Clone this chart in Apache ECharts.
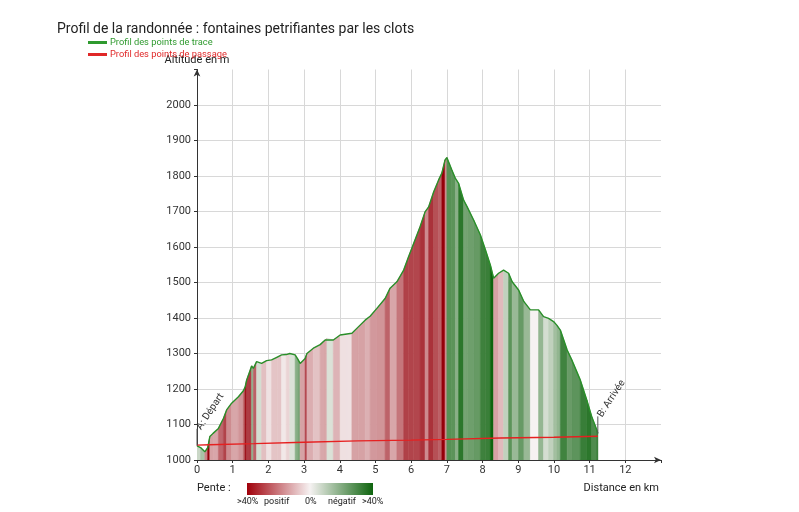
<!DOCTYPE html>
<html>
<head>
<meta charset="utf-8">
<script src="https://cdn.jsdelivr.net/npm/echarts@6/dist/echarts.min.js"></script>
<style>html,body{margin:0;padding:0;background:#fff}#c{width:799px;height:512px}</style>
</head>
<body>
<div id="c"></div>
<script>
// Profile of the track points (distance km, altitude m)
const traceKm = [0.00,0.10,0.22,0.30,0.36,0.45,0.60,0.74,0.83,0.97,1.16,1.30,1.35,1.39,1.49,1.53,1.58,1.67,1.81,1.95,2.09,2.25,2.37,2.50,2.60,2.75,2.82,2.89,3.03,3.08,3.26,3.45,3.59,3.64,3.82,4.01,4.20,4.34,4.52,4.71,4.85,5.04,5.27,5.41,5.60,5.79,5.93,6.07,6.25,6.39,6.49,6.63,6.77,6.86,6.95,7.00,7.14,7.24,7.33,7.47,7.57,7.75,7.94,8.08,8.22,8.31,8.45,8.59,8.73,8.83,9.01,9.16,9.34,9.57,9.71,9.85,9.99,10.08,10.18,10.37,10.50,10.74,10.92,11.06,11.20,11.23];
const traceAlt = [1040,1035,1023,1035,1066,1075,1089,1117,1141,1160,1178,1195,1206,1225,1253,1265,1258,1277,1272,1280,1282,1290,1296,1297,1300,1296,1285,1272,1286,1300,1315,1325,1338,1343,1338,1352,1355,1357,1375,1394,1405,1427,1455,1484,1502,1535,1573,1610,1657,1699,1713,1755,1789,1808,1845,1852,1817,1793,1779,1732,1713,1676,1634,1592,1549,1512,1526,1535,1526,1502,1479,1446,1423,1423,1404,1399,1390,1380,1366,1310,1282,1225,1169,1122,1085,1075];
// Profile of the waypoints
const passKm  = [0.00,0.35,1.60,3.00,4.50,6.00,7.00,8.50,10.00,11.23];
const passAlt = [1042,1043,1046,1050,1054,1056,1058,1062,1064,1067];
// Start / finish markers
const markerKm = [0.00, 11.23];
const markerAlt = [1040, 1075];
const markerNames = ['A: Départ', 'B: Arrivée'];
// Axis ticks
const xTicks = [0,1,2,3,4,5,6,7,8,9,10,11,12];
const yTicks = [1000,1100,1200,1300,1400,1500,1600,1700,1800,1900,2000];
const seriesNames = ['Profil des points de trace', 'Profil des points de passage'];
const slopeLegend = ['>40%', 'positif', '0%', 'négatif', '>40%'];

const segments = [];
for (let i = 0; i < traceKm.length - 1; i++) {
  const slope = (traceAlt[i+1] - traceAlt[i]) / ((traceKm[i+1] - traceKm[i]) * 1000) * 100;
  segments.push([traceKm[i], traceKm[i+1], traceAlt[i], traceAlt[i+1], slope]);
}
function mix(a, b, t) {
  return 'rgb(' + a.map((v, k) => Math.round(v + (b[k] - v) * t)).join(',') + ')';
}
const WHITE = [246, 242, 242], RED = [150, 0, 10], GREEN = [14, 100, 14];
function slopeColor(s) {
  const t = Math.max(-1, Math.min(1, s / 40));
  const a = Math.pow(Math.abs(t), 0.8);
  return t >= 0 ? mix(WHITE, RED, a) : mix(WHITE, GREEN, a);
}

const chart = echarts.init(document.getElementById('c'));
chart.setOption({
  animation: false,
  backgroundColor: '#fff',
  textStyle: { fontFamily: 'Roboto' },
  title: {
    text: 'Profil de la randonnée : fontaines petrifiantes par les clots',
    left: 52, top: 17,
    textStyle: { fontSize: 14, fontWeight: 'normal', color: '#222', fontFamily: 'Roboto' }
  },
  legend: {
    orient: 'vertical', left: 83, top: 33, itemGap: 3,
    itemWidth: 19, itemHeight: 3, icon: 'rect',
    data: [
      { name: seriesNames[0], textStyle: { color: '#2f9a2f' } },
      { name: seriesNames[1], textStyle: { color: '#e02828' } }
    ],
    textStyle: { fontSize: 9.3, fontFamily: 'Roboto', padding: [0, 0, 0, -2] }
  },
  grid: { left: 197, right: 138, top: 69.5, bottom: 52, containLabel: false },
  xAxis: {
    type: 'value', min: 0, max: 13, interval: 1,
    axisLine: { show: true, lineStyle: { color: '#333', width: 1 }, symbol: ['none', 'arrow'], symbolSize: [5, 7] },
    axisTick: { show: true, length: 3, lineStyle: { color: '#333' } },
    axisLabel: { color: '#333', fontSize: 11, margin: 5,
      formatter: v => xTicks.indexOf(v) >= 0 ? String(v) : '' },
    splitLine: { show: true, showMinLine: false, showMaxLine: false, lineStyle: { color: '#d8d8d8', width: 1 } }
  },
  yAxis: {
    type: 'value', min: 1000, max: 2100, interval: 100,
    name: 'Altitude en m', nameLocation: 'end', nameGap: 4,
    nameTextStyle: { color: '#222', fontSize: 11, align: 'center' },
    axisLine: { show: true, lineStyle: { color: '#333', width: 1 }, symbol: ['none', 'arrow'], symbolSize: [5, 7] },
    axisTick: { show: true, length: 3, lineStyle: { color: '#333' } },
    axisLabel: { color: '#333', fontSize: 11, margin: 6,
      formatter: v => yTicks.indexOf(v) >= 0 ? String(v) : '' },
    splitLine: { show: true, showMinLine: false, showMaxLine: false, lineStyle: { color: '#d8d8d8', width: 1 } }
  },
  graphic: [
    { type: 'text', right: 140, top: 483, style: { text: 'Distance en km', fontSize: 11, fill: '#222', fontFamily: 'Roboto' } },
    { type: 'text', left: 197, top: 483, style: { text: 'Pente :', fontSize: 11, fill: '#222', fontFamily: 'Roboto' } },
    { type: 'rect', shape: { x: 247, y: 483, width: 126, height: 12 },
      style: { fill: new echarts.graphic.LinearGradient(0, 0, 1, 0, [
        { offset: 0, color: 'rgb(160,0,10)' },
        { offset: 0.5, color: 'rgb(246,242,242)' },
        { offset: 1, color: 'rgb(14,100,14)' }
      ]) } },
    { type: 'text', left: 237, top: 497, style: { text: slopeLegend[0], fontSize: 9, fill: '#222', fontFamily: 'Roboto' } },
    { type: 'text', left: 264, top: 497, style: { text: slopeLegend[1], fontSize: 9, fill: '#222', fontFamily: 'Roboto' } },
    { type: 'text', left: 305, top: 497, style: { text: slopeLegend[2], fontSize: 9, fill: '#222', fontFamily: 'Roboto' } },
    { type: 'text', left: 328, top: 497, style: { text: slopeLegend[3], fontSize: 9, fill: '#222', fontFamily: 'Roboto' } },
    { type: 'text', left: 362, top: 497, style: { text: slopeLegend[4], fontSize: 9, fill: '#222', fontFamily: 'Roboto' } }
  ],
  series: [
    {
      type: 'custom', name: 'pente', silent: true, clip: true, z: 1,
      data: segments,
      renderItem: function (params, api) {
        const x0 = api.value(0), x1 = api.value(1), y0 = api.value(2), y1 = api.value(3), s = api.value(4);
        const base = 1000;
        const pts = [api.coord([x0, base]), api.coord([x0, y0]), api.coord([x1, y1]), api.coord([x1, base])];
        const col = slopeColor(s);
        return { type: 'polygon', shape: { points: pts }, style: { fill: col, stroke: col, lineWidth: 0.6 } };
      }
    },
    {
      type: 'line', name: seriesNames[0], z: 3,
      data: traceKm.map((k, i) => [k, traceAlt[i]]),
      showSymbol: false, symbol: 'none',
      lineStyle: { color: '#2a8f2a', width: 1.4 }, itemStyle: { color: '#2f9a2f' }
    },
    {
      type: 'line', name: seriesNames[1], z: 4,
      data: passKm.map((k, i) => [k, passAlt[i]]),
      showSymbol: false, symbol: 'none',
      lineStyle: { color: '#e62020', width: 1.4 }, itemStyle: { color: '#e02828' }
    },
    {
      type: 'custom', name: 'markers', silent: true, z: 5, clip: false,
      data: markerKm.map((k, i) => [k, markerAlt[i], i]),
      renderItem: function (params, api) {
        const p = api.coord([api.value(0), api.value(1)]);
        const top = p[1] - 17;
        return {
          type: 'group',
          children: [
            { type: 'line', shape: { x1: p[0], y1: p[1], x2: p[0], y2: top }, style: { stroke: '#555', lineWidth: 1 } },
            { type: 'text', x: p[0] + 2, y: top, rotation: 0.99,
              style: { text: markerNames[api.value(2)], fontSize: 10, fill: '#333', fontFamily: 'Roboto', align: 'left', verticalAlign: 'middle' } }
          ]
        };
      }
    }
  ]
});
</script>
</body>
</html>
